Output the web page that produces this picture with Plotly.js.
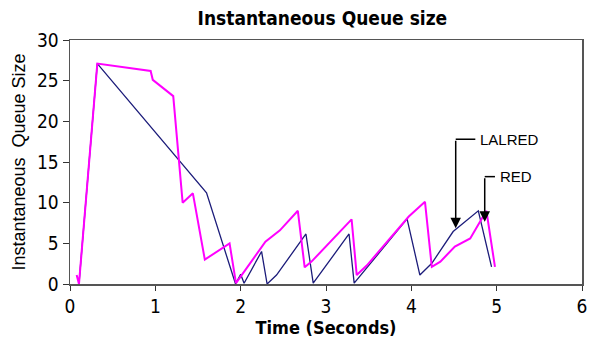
<!DOCTYPE html>
<html><head><meta charset="utf-8">
<script src="https://cdn.plot.ly/plotly-3.0.1.min.js"></script>
<style>html,body{margin:0;padding:0;background:#fff}#c{width:597px;height:345px}</style>
</head><body><div id="c"></div>
<script>
// LALRED (navy) series
const lalredTime = [0.105,0.32,1.60,1.94,2.0,2.04,2.245,2.31,2.42,2.765,2.85,3.27,3.33,3.95,4.10,4.24,4.49,4.785,4.94];
const lalredQueue = [0,27.1,11.2,0,1.2,0.1,4.0,0,1.1,6.15,0.1,6.15,0.1,8.0,1.1,2.55,6.45,9.0,2.1];
// RED (magenta) series
const redTime = [0.078,0.105,0.32,0.945,0.97,1.21,1.32,1.44,1.58,1.87,1.945,2.29,2.46,2.67,2.75,2.83,3.30,3.36,3.48,3.97,4.16,4.24,4.34,4.51,4.69,4.88,4.98];
const redQueue = [1.1,0,27.1,26.2,25.1,23.1,10.0,11.15,3.0,5.0,0.1,5.2,6.6,9.0,2.05,2.75,7.95,1.1,2.3,8.3,10.1,2.1,2.75,4.6,5.6,9.0,2.1];
const xTicks = [0,1,2,3,4,5,6];
const yTicks = [0,5,10,15,20,25,30];

const narrow = '"DejaVu Sans Condensed", "Liberation Sans Narrow", sans-serif';
const regular = '"Liberation Sans", Arial, sans-serif';
const traces = [
  {x: lalredTime, y: lalredQueue, mode: 'lines', name: 'LALRED', line: {color: '#1c1c7a', width: 1.3}},
  {x: redTime, y: redQueue, mode: 'lines', name: 'RED', line: {color: '#ff00ff', width: 2}}
];
const layout = {
  width: 597, height: 345,
  margin: {l: 70, r: 15, t: 40, b: 61},
  paper_bgcolor: '#fff', plot_bgcolor: '#fff',
  showlegend: false,
  title: {text: '<b>Instantaneous Queue size</b>', x: 0.54, xanchor: 'center', y: 0.948, yanchor: 'middle',
          font: {family: narrow, size: 19, color: '#000'}},
  xaxis: {range: [0, 6], tickvals: xTicks, ticktext: xTicks.map(String), showgrid: false, zeroline: false,
          ticks: 'outside', ticklen: 5, tickcolor: '#333', showline: true, linecolor: '#555', linewidth: 1.5, mirror: true,
          tickfont: {family: narrow, size: 19, color: '#000'},
          title: {text: '<b>Time (Seconds)</b>', font: {family: narrow, size: 18, color: '#000'}, standoff: 5}},
  yaxis: {range: [0, 30], tickvals: yTicks, ticktext: yTicks.map(String), showgrid: false, zeroline: false,
          ticks: 'outside', ticklen: 6, tickcolor: '#333', showline: true, linecolor: '#555', linewidth: 1.5, mirror: true,
          tickfont: {family: narrow, size: 19, color: '#000'},
          title: {text: 'Instantaneous  Queue Size', font: {family: regular, size: 18, color: '#000'}, standoff: 6}},
  shapes: [
    {type: 'line', xref: 'x', yref: 'y', x0: 4.52, y0: 17.8, x1: 4.75, y1: 17.8, line: {color: '#000', width: 1.5}},
    {type: 'line', xref: 'x', yref: 'y', x0: 4.86, y0: 13.2, x1: 4.98, y1: 13.2, line: {color: '#000', width: 1.5}}
  ],
  annotations: [
    {x: 4.52, y: 6.85, ax: 4.52, ay: 17.8, axref: 'x', ayref: 'y', xref: 'x', yref: 'y', text: '', showarrow: true,
     arrowhead: 2, arrowsize: 1.4, arrowwidth: 1.5, arrowcolor: '#000'},
    {x: 4.86, y: 7.66, ax: 4.86, ay: 13.2, axref: 'x', ayref: 'y', xref: 'x', yref: 'y', text: '', showarrow: true,
     arrowhead: 2, arrowsize: 1.4, arrowwidth: 1.5, arrowcolor: '#000'},
    {x: 4.78, y: 17.8, xref: 'x', yref: 'y', text: 'LALRED', showarrow: false, xanchor: 'left', yanchor: 'middle',
     font: {family: regular, size: 15, color: '#000'}},
    {x: 5.02, y: 13.2, xref: 'x', yref: 'y', text: 'RED', showarrow: false, xanchor: 'left', yanchor: 'middle',
     font: {family: regular, size: 15, color: '#000'}}
  ]
};
Plotly.newPlot('c', traces, layout, {staticPlot: true, displayModeBar: false});
</script></body></html>
